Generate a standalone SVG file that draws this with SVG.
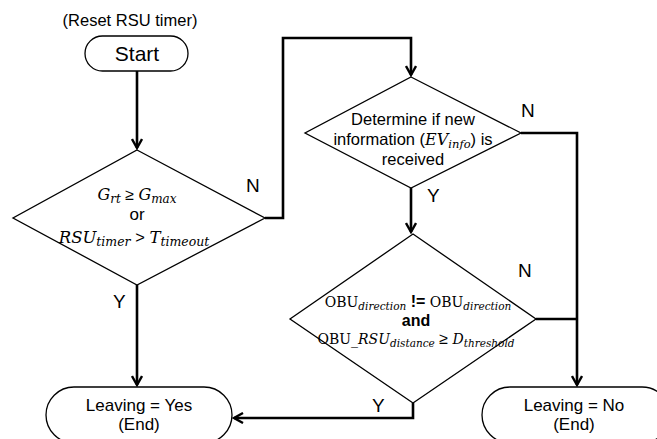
<svg xmlns="http://www.w3.org/2000/svg" width="657" height="439" viewBox="0 0 657 439">
<style>
.shape{fill:#fff;stroke:#000;stroke-width:1.3}
.conn{fill:none;stroke:#000;stroke-width:2.6}
.sans{font-family:"Liberation Sans",Arial,sans-serif;fill:#000}
.math{font-family:"DejaVu Serif","Liberation Serif",serif;font-style:italic;fill:#000}
.up{font-family:"DejaVu Serif","Liberation Serif",serif;font-style:normal}
.lbl{font-family:"Liberation Sans",Arial,sans-serif;font-size:19px;fill:#000}
</style>
<defs>
<marker id="arr" viewBox="0 0 12 12" refX="10" refY="6" markerWidth="12" markerHeight="12" markerUnits="userSpaceOnUse" orient="auto">
<path d="M1,1 L10,6 L1,11" fill="none" stroke="#000" stroke-width="2.4"/>
</marker>
</defs>
<rect width="657" height="439" fill="#fff"/>

<g id="connectors">
<path class="conn" d="M137,71 V148" marker-end="url(#arr)"/>
<path class="conn" d="M265,218 H283 V38 H411 V75" marker-end="url(#arr)"/>
<path class="conn" d="M411,188 V232" marker-end="url(#arr)"/>
<path class="conn" d="M521,133 H577 V385" marker-end="url(#arr)"/>
<path class="conn" d="M536,319 H577"/>
<path class="conn" d="M137,285 V385" marker-end="url(#arr)"/>
<path class="conn" d="M413,403 V418 H234" marker-end="url(#arr)"/>
<text class="lbl" x="246" y="192">N</text>
<text class="lbl" x="113" y="308">Y</text>
<text class="lbl" x="521" y="117">N</text>
<text class="lbl" x="427" y="202">Y</text>
<text class="lbl" x="518" y="277">N</text>
<text class="lbl" x="372" y="412">Y</text>
</g>

<g id="start">
<text class="sans" x="130" y="26" font-size="16.5" text-anchor="middle">(Reset RSU timer)</text>
<rect class="shape" x="85" y="36" width="103" height="35" rx="17.5"/>
<text class="sans" x="137" y="61" font-size="21" text-anchor="middle">Start</text>
</g>

<g id="decision1">
<polygon class="shape" points="137,150 265,218 137,285 13,218"/>
<text class="math" x="137" y="200" font-size="16" text-anchor="middle">G<tspan font-size="12" dy="3">rt</tspan><tspan class="sans" font-style="normal" dy="-3"> ≥ </tspan>G<tspan font-size="12" dy="3">max</tspan></text>
<text class="sans" x="137" y="220" font-size="17" text-anchor="middle">or</text>
<text class="math" x="134" y="243" font-size="16.5" text-anchor="middle">RSU<tspan font-size="12.5" dy="3">timer</tspan><tspan class="sans" font-style="normal" dy="-3"> &gt; </tspan>T<tspan font-size="12.5" dy="3">timeout</tspan></text>
</g>

<g id="decision2">
<polygon class="shape" points="411,77 521,133 411,188 305,133"/>
<text class="sans" x="413" y="125" font-size="16.5" text-anchor="middle">Determine if new</text>
<text class="sans" x="413" y="145" font-size="16.5" text-anchor="middle">information (<tspan class="math" font-size="16">EV</tspan><tspan class="math" font-size="11.5" dy="3">info</tspan><tspan dy="-3">) is</tspan></text>
<text class="sans" x="413" y="165" font-size="16.5" text-anchor="middle">received</text>
</g>

<g id="decision3">
<polygon class="shape" points="413,234 536,319 413,403 290,319"/>
<text class="math" x="418" y="307" font-size="14" text-anchor="middle"><tspan class="up">OBU</tspan><tspan font-size="10.5" dy="3">direction</tspan><tspan class="sans" font-style="normal" font-weight="bold" font-size="16" dy="-3"> != </tspan><tspan class="up">OBU</tspan><tspan font-size="10.5" dy="3">direction</tspan></text>
<text class="sans" x="416" y="326" font-size="16" font-weight="bold" text-anchor="middle">and</text>
<text class="math" x="416" y="344" font-size="14" text-anchor="middle"><tspan class="up">OBU_</tspan>RSU<tspan font-size="10.5" dy="3">distance</tspan><tspan class="sans" font-style="normal" font-size="16" dy="-3"> ≥ </tspan>D<tspan font-size="10.5" dy="3">threshold</tspan></text>
</g>

<g id="end-yes">
<rect class="shape" x="46" y="387" width="186" height="56" rx="28"/>
<text class="sans" x="139" y="411" font-size="17" text-anchor="middle">Leaving = Yes</text>
<text class="sans" x="139" y="430" font-size="17" text-anchor="middle">(End)</text>
</g>

<g id="end-no">
<rect class="shape" x="482" y="387" width="188" height="56" rx="28"/>
<text class="sans" x="574" y="411" font-size="17" text-anchor="middle">Leaving = No</text>
<text class="sans" x="574" y="430" font-size="17" text-anchor="middle">(End)</text>
</g>
</svg>
